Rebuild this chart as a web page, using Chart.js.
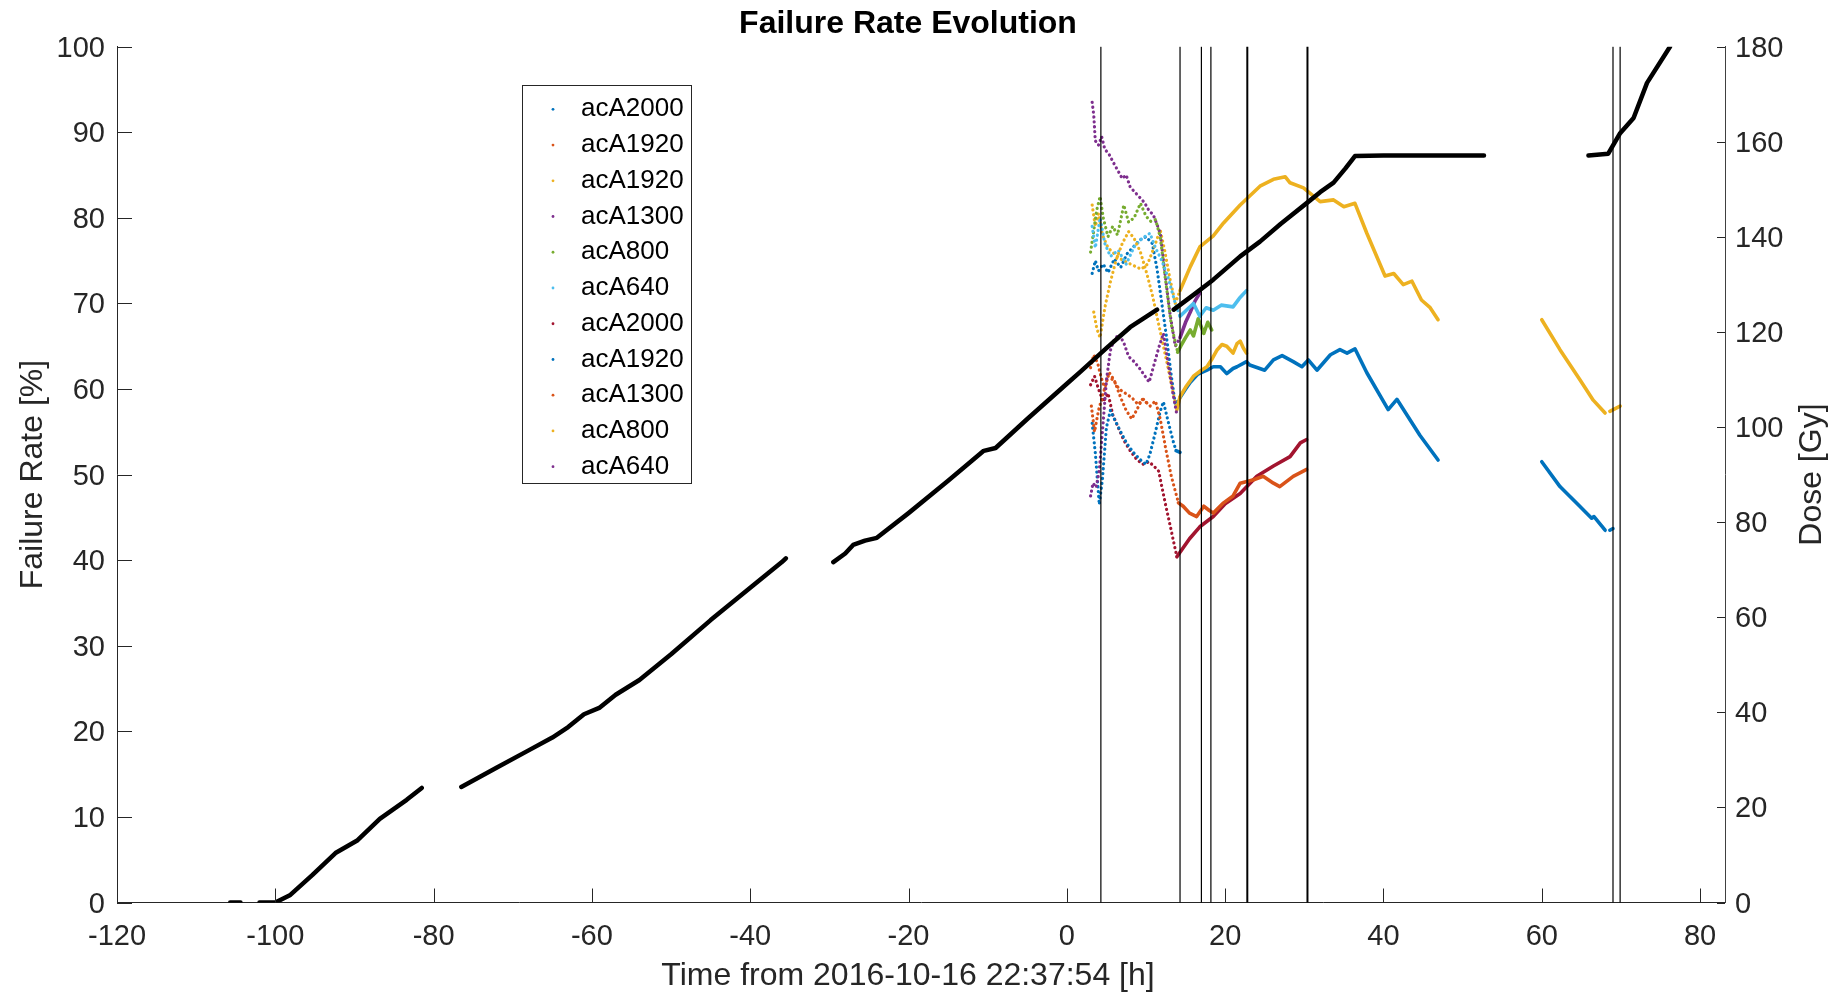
<!DOCTYPE html>
<html>
<head>
<meta charset="utf-8">
<title>Failure Rate Evolution</title>
<script src="https://cdn.jsdelivr.net/npm/chart.js@4.4.1/dist/chart.umd.min.js"></script>
<style>
  html, body { margin: 0; padding: 0; background: #fff; }
  #wrap { width: 1835px; height: 994px; }
</style>
</head>
<body>
<div id="wrap"><canvas id="failureChart"></canvas></div>
<script>
/* Failure rate of the cameras vs. time, with the accumulated dose on the
   right axis. Null = gap in the data. */

const legendLabels = ['acA2000', 'acA1920', 'acA1920', 'acA1300', 'acA800', 'acA640',
                      'acA2000', 'acA1920', 'acA1300', 'acA800', 'acA640'];

// vertical event markers [h]
const eventTimes = [4.3, 14.3, 17.0, 18.2, 69.0, 69.9];
const eventTimesBold = [22.8, 30.4];

// dose [Gy] vs time [h]
const doseGy = [
  [-105.7, 0], [-104.4, 0], null,
  [-102, 0], [-100, 0], [-98.1, 1.6], [-95.3, 5.8], [-92.4, 10.4], [-89.6, 13.1], [-86.8, 17.6], [-83.4, 21.6], [-81.5, 24.1], null,
  [-76.5, 24.3], [-72, 28.4], [-68, 32.0], [-65, 34.7], [-63, 36.9], [-61, 39.6], [-59, 41.0], [-57, 43.7], [-54, 46.8], [-50, 52.2],
  [-45, 59.4], [-40, 66.2], [-36, 71.6], [-35.5, 72.4], null,
  [-29.5, 71.6], [-28, 73.4], [-27, 75.2], [-25.5, 76.1], [-24, 76.7], [-20, 81.9], [-15, 88.7], [-12, 92.9], [-10.5, 95.0], [-9, 95.6],
  [-5, 101.7], [0, 109.1], [1.7, 111.6], [5, 116.6], [8, 121.0], [11.4, 124.7], null,
  [13.5, 124.7], [16, 127.8], [18.5, 131.0], [21.9, 135.9], [24.4, 139.0], [27, 142.7], [30.3, 147.1], [32, 149.4], [33.7, 151.4],
  [35.2, 154.4], [36.4, 157.0], [40, 157.1], [45, 157.1], [52.7, 157.1], null,
  [65.9, 157.1], [68.4, 157.5], [69.9, 161.8], [71.6, 165.0], [73.3, 172.4], [76.2, 180]
];

// failure rate [%] vs time [h], one list per camera
const rateA2000a = [
  [3.2, 73.5], [3.6, 75], [4.0, 73.8], [4.6, 74.6], [5.2, 73.6], [6.0, 75.2], [6.8, 74.2], [7.6, 75.8], [8.4, 76.6], [9.2, 77.4],
  [10.0, 77.8], [10.8, 77.0], [11.4, 74.0], [12.0, 70.0], [12.6, 66.0], [13.2, 61.5], [13.7, 58.2],
  [14.3, 59.0], [15.0, 60.0], [15.6, 60.8], [16.5, 61.7], [17.7, 62.2], [18.5, 62.6], [19.4, 62.6], [20.2, 61.8], [21.0, 62.4],
  [21.5, 62.6], [22.7, 63.2], [23.1, 62.8], [25.0, 62.2], [26.1, 63.4], [27.2, 63.9], [28.6, 63.2], [29.7, 62.6], [30.5, 63.4],
  [31.6, 62.2], [33.3, 64.0], [34.5, 64.6], [35.4, 64.2], [36.4, 64.7], [37.9, 61.9], [40.6, 57.6], [41.7, 58.8], [44.6, 54.6],
  [46.9, 51.7], null,
  [60.0, 51.5], [62.3, 48.6], [64.8, 46.3], [66.3, 44.9], [66.6, 45.1], [68.0, 43.5], null,
  [68.6, 43.5], [69.0, 43.7]
];
const rateA1920a = [
  [3.0, 62.5], [3.4, 64.0], [3.9, 63.0], [4.3, 61.5], [4.8, 60.0], [5.3, 62.0], [6.0, 61.0], [6.8, 59.0], [7.5, 57.5], [8.2, 56.5],
  [8.8, 57.5], [9.5, 58.8], [10.2, 58.3]
];
const rateA1920b = [
  [3.2, 81.5], [3.6, 79.0], [4.0, 80.5], [4.5, 78.0], [5.2, 76.5], [6.0, 75.8], [6.8, 75.2], [7.6, 74.8], [8.5, 74.4], [9.4, 74.0],
  [10.2, 74.6], [11.0, 76.5], [11.8, 78.6], [12.4, 76.0], [13.0, 73.0], [13.7, 70.0],
  [14.3, 71.5], [15.0, 73.0], [15.6, 74.3], [16.8, 76.6], [18.5, 77.9], [19.8, 79.4], [21.9, 81.5], [24.4, 83.7], [26.1, 84.5],
  [27.6, 84.8], [28.2, 84.1], [29.9, 83.5], [32.0, 81.9], [33.7, 82.1], [35.0, 81.3], [36.4, 81.7], [37.9, 78.2], [40.2, 73.2],
  [41.3, 73.5], [42.5, 72.2], [43.6, 72.6], [44.8, 70.4], [45.9, 69.5], [46.9, 68.1], null,
  [60.0, 68.1], [62.3, 64.6], [64.8, 61.1], [66.5, 58.7], [68.0, 57.2], null,
  [68.6, 57.4], [69.9, 58.0]
];
const rateA1300a = [
  [3.2, 93.5], [3.4, 92.0], [3.6, 89.0], [4.0, 88.5], [4.4, 89.5], [4.8, 88.0], [5.3, 87.5], [5.8, 86.6], [6.4, 85.6], [7.0, 84.6],
  [7.5, 85.0], [8.0, 83.6], [8.6, 83.0], [9.2, 82.4], [9.8, 81.8], [10.4, 80.8], [10.9, 80.4], [11.4, 79.2], [11.8, 78.2],
  [12.4, 73.5], [13.0, 69.0], [13.7, 65.0],
  [14.3, 66.0], [15.0, 67.8], [15.6, 69.0], [16.2, 70.3], [16.8, 71.2]
];
const rateA800a = [
  [3.0, 76.0], [3.4, 78.5], [3.8, 81.0], [4.2, 82.5], [4.6, 80.0], [5.2, 77.8], [5.8, 79.0], [6.4, 78.0], [7.2, 81.5], [7.8, 79.5],
  [8.5, 80.0], [9.3, 81.7], [10.0, 80.2], [10.6, 79.6], [11.2, 79.8], [11.8, 77.8], [12.5, 72.5], [13.2, 67.5], [14.0, 64.3],
  [14.5, 65.2], [15.0, 66.0], [15.6, 66.9], [16.0, 66.2], [16.6, 68.2], [17.3, 66.5], [17.8, 67.8], [18.3, 66.9]
];
const rateA640a = [
  [3.2, 79.0], [3.6, 76.5], [4.2, 80.0], [4.8, 77.0], [5.5, 75.5], [6.5, 76.2], [7.5, 74.6], [8.5, 76.6], [9.5, 77.6], [10.5, 78.2],
  [11.2, 76.5], [12.0, 75.0], [12.8, 73.0], [13.7, 70.0],
  [14.3, 68.5], [15.1, 69.2], [16.0, 70.0], [16.8, 68.5], [17.6, 69.5], [18.5, 69.2], [19.5, 69.8], [21.0, 69.6], [21.8, 70.6],
  [22.7, 71.5]
];
const rateA2000b = [
  [3.0, 60.5], [3.5, 61.5], [4.0, 60.0], [4.6, 58.5], [5.2, 59.5], [5.8, 57.0], [6.5, 55.5], [7.2, 54.0], [8.0, 52.8], [8.8, 51.8],
  [9.6, 51.2], [10.4, 51.5], [11.2, 50.8], [11.6, 50.4], [12.4, 46.8], [13.2, 43.4], [13.9, 40.4],
  [14.5, 41.2], [15.5, 42.5], [16.8, 43.9], [18.5, 45.1], [20.0, 46.6], [21.9, 47.8], [24.0, 49.8], [26.1, 51.0], [28.2, 52.1],
  [29.5, 53.7], [30.3, 54.1]
];
const rateA1920c = [
  [3.2, 56.0], [3.6, 52.5], [4.1, 46.5], [4.5, 49.5], [5.0, 55.5], [5.5, 57.5], [6.0, 56.5], [6.8, 55.0], [7.6, 53.6], [8.4, 52.6],
  [9.2, 51.8], [10.0, 51.2], [10.5, 52.4], [11.2, 55.0], [11.8, 57.4], [12.2, 58.5], [12.8, 56.2], [13.4, 54.0], [13.8, 52.8],
  [14.3, 52.6]
];
const rateA1300b = [
  [3.1, 58.0], [3.5, 55.0], [4.0, 57.5], [4.6, 59.5], [5.2, 61.5], [5.9, 61.0], [6.6, 60.0], [7.4, 59.5], [8.2, 59.0], [9.0, 58.2],
  [9.7, 58.8], [10.5, 58.0], [11.2, 58.6], [11.8, 56.5], [12.5, 53.0], [13.2, 49.8], [14.1, 46.7],
  [14.7, 46.3], [15.5, 45.5], [16.4, 45.1], [17.3, 46.3], [18.0, 45.8], [18.5, 45.5], [19.8, 46.7], [21.0, 47.5], [21.9, 49.0],
  [23.6, 49.4], [24.8, 49.8], [26.1, 49.0], [26.9, 48.6], [28.6, 49.8], [30.3, 50.6]
];
const rateA800b = [
  [3.4, 69.0], [3.8, 67.0], [4.2, 66.0], [4.8, 69.5], [5.5, 72.5], [6.2, 75.0], [7.0, 77.0], [7.8, 78.4], [8.5, 77.6], [9.3, 76.0],
  [10.1, 73.5], [10.8, 71.0], [11.5, 68.0], [12.2, 65.0], [12.9, 62.0], [13.6, 58.8], [13.9, 57.6],
  [14.3, 59.1], [15.0, 60.2], [16.0, 61.5], [17.0, 62.2], [17.7, 62.6], [18.4, 63.6], [19.0, 64.6], [19.6, 65.2], [20.2, 65.0],
  [21.0, 64.2], [21.5, 65.3], [21.9, 65.6], [22.3, 64.8], [22.7, 64.2]
];
const rateA640b = [
  [3.0, 47.5], [3.3, 49.0], [3.7, 48.5], [4.1, 50.5], [4.5, 55.0], [5.0, 61.0], [5.5, 64.5], [6.0, 65.8], [6.6, 66.4], [7.2, 65.4],
  [7.8, 63.8], [8.5, 63.2], [9.2, 62.4], [9.8, 61.6], [10.4, 60.8], [11.0, 62.8], [11.6, 64.8], [12.2, 66.5], [12.8, 63.0],
  [13.4, 59.5], [13.9, 57.0]
];

const rateSeries = [rateA2000a, rateA1920a, rateA1920b, rateA1300a, rateA800a, rateA640a,
                    rateA2000b, rateA1920c, rateA1300b, rateA800b, rateA640b];

// MATLAB default colour order
const palette = ['#0072BD', '#D95319', '#EDB120', '#7E2F8E', '#77AC30', '#4DBEEE', '#A2142F'];

// before this time the samples are sparse and show up as dots
const DENSE_FROM = 13.8;
const FONT = '"Liberation Sans", Arial, Helvetica, sans-serif';
const AXIS_COLOR = '#262626';

function toXY(pairs) {
  return pairs.map((p) => (p ? { x: p[0], y: p[1] } : { x: null, y: null }));
}

function eventLine(times) {
  const pts = [];
  times.forEach((t) => { pts.push([t, 0], [t, 100], null); });
  return toXY(pts);
}

/* ---- plugins ---- */

// MATLAB style ticks that point into the plot
const inwardTicks = {
  id: 'inwardTicks',
  afterDraw(chart) {
    const { ctx, chartArea: a, scales } = chart;
    ctx.save();
    ctx.strokeStyle = AXIS_COLOR;
    ctx.lineWidth = 1;
    ctx.beginPath();
    scales.x.ticks.forEach((t) => {
      const px = Math.round(scales.x.getPixelForValue(t.value)) + 0.5;
      ctx.moveTo(px, a.bottom); ctx.lineTo(px, a.bottom - 14);
    });
    scales.y.ticks.forEach((t) => {
      const py = Math.round(scales.y.getPixelForValue(t.value)) + 0.5;
      ctx.moveTo(a.left, py); ctx.lineTo(a.left + 15, py);
    });
    scales.y2.ticks.forEach((t) => {
      const py = Math.round(scales.y2.getPixelForValue(t.value)) + 0.5;
      ctx.moveTo(a.right, py); ctx.lineTo(a.right - 8, py);
    });
    ctx.stroke();
    ctx.restore();
  }
};

// title and axis labels; MATLAB centres them a little left of / above the plot centre
const figureText = {
  id: 'figureText',
  afterDraw(chart) {
    const { ctx, chartArea: a } = chart;
    const midX = (a.left + a.right) / 2 - 13;
    const midY = (a.top + a.bottom) / 2;
    ctx.save();
    ctx.textAlign = 'center';

    ctx.fillStyle = '#000';
    ctx.font = 'bold 32px ' + FONT;
    ctx.textBaseline = 'alphabetic';
    ctx.fillText('Failure Rate Evolution', midX, 32.5);

    ctx.fillStyle = AXIS_COLOR;
    ctx.font = '32px ' + FONT;
    ctx.fillText('Time from 2016-10-16 22:37:54 [h]', midX, 985);

    ctx.textBaseline = 'middle';
    ctx.save();
    ctx.translate(33, midY);
    ctx.rotate(-Math.PI / 2);
    ctx.fillText('Failure Rate [%]', 0, 0);
    ctx.restore();

    ctx.translate(a.right + 87, midY);
    ctx.rotate(-Math.PI / 2);
    ctx.fillText('Dose [Gy]', 0, 0);
    ctx.restore();
  }
};

// boxed legend inside the plot, upper left
const insideLegend = {
  id: 'insideLegend',
  afterDraw(chart) {
    const ctx = chart.ctx;
    const box = { left: 522.5, top: 85.5, width: 169, height: 398 };
    const rowH = 35.74;
    ctx.save();
    ctx.fillStyle = '#fff';
    ctx.fillRect(box.left, box.top, box.width, box.height);
    ctx.strokeStyle = AXIS_COLOR;
    ctx.lineWidth = 1;
    ctx.strokeRect(box.left, box.top, box.width, box.height);
    ctx.font = '26px ' + FONT;
    ctx.textAlign = 'left';
    ctx.textBaseline = 'middle';
    legendLabels.forEach((label, i) => {
      const y = box.top + 23.8 + i * rowH;
      ctx.fillStyle = palette[i % palette.length];
      ctx.beginPath();
      ctx.arc(box.left + 30.5, y, 1.4, 0, Math.PI * 2);
      ctx.fill();
      ctx.fillStyle = '#000';
      ctx.fillText(label, box.left + 58.5, y);
    });
    ctx.restore();
  }
};

/* ---- chart ---- */

const datasets = [
  { label: 'events', data: eventLine(eventTimes), yAxisID: 'y', borderColor: '#000', borderWidth: 1.2, order: 0 },
  { label: 'events', data: eventLine(eventTimesBold), yAxisID: 'y', borderColor: '#000', borderWidth: 2, order: 0 },
  { label: 'Dose', data: toXY(doseGy), yAxisID: 'y2', borderColor: '#000', borderWidth: 4.5, order: 1 }
];

rateSeries.forEach((series, i) => {
  datasets.push({
    label: legendLabels[i],
    data: toXY(series),
    yAxisID: 'y',
    borderColor: palette[i % palette.length],
    borderWidth: 3.6,
    order: 20 - i,
    segment: {
      borderDash: (ctx) => (ctx.p0.parsed.x < DENSE_FROM ? [0.1, 4.8] : undefined),
      borderWidth: (ctx) => (ctx.p0.parsed.x < DENSE_FROM ? 3.2 : undefined)
    }
  });
});

datasets.forEach((d) => {
  d.showLine = true;
  d.pointRadius = 0;
  d.borderCapStyle = 'round';
  d.borderJoinStyle = 'round';
  d.spanGaps = false;
  d.tension = 0;
});

Chart.defaults.font.family = FONT;
Chart.defaults.color = AXIS_COLOR;

new Chart(document.getElementById('failureChart'), {
  type: 'scatter',
  data: { datasets },
  plugins: [inwardTicks, figureText, insideLegend],
  options: {
    responsive: true,
    maintainAspectRatio: false,
    devicePixelRatio: 1,
    animation: false,
    events: [],
    layout: { padding: { top: 46.7 } },
    plugins: {
      legend: { display: false },
      tooltip: { enabled: false },
      title: { display: false }
    },
    scales: {
      x: {
        type: 'linear',
        position: 'bottom',
        min: -120,
        max: 83.15,
        afterFit: (s) => { s.height = 91.5; },
        grid: { drawOnChartArea: false, drawTicks: false },
        border: { display: true, color: AXIS_COLOR, width: 1 },
        ticks: { stepSize: 20, includeBounds: false, autoSkip: false, maxRotation: 0, padding: 17.5, color: AXIS_COLOR, font: { size: 29 } }
      },
      y: {
        type: 'linear',
        position: 'left',
        min: 0,
        max: 100,
        afterFit: (s) => { s.width = 117; },
        grid: { drawOnChartArea: false, drawTicks: false },
        border: { display: true, color: AXIS_COLOR, width: 1 },
        ticks: { stepSize: 10, autoSkip: false, padding: 12, labelOffset: 2, color: AXIS_COLOR, font: { size: 29 } }
      },
      y2: {
        type: 'linear',
        position: 'right',
        min: 0,
        max: 180,
        afterFit: (s) => { s.width = 110; },
        grid: { drawOnChartArea: false, drawTicks: false },
        border: { display: true, color: '#404040', width: 1 },
        ticks: { stepSize: 20, autoSkip: false, padding: 10, labelOffset: 2, color: AXIS_COLOR, font: { size: 29 } }
      }
    }
  }
});
</script>
</body>
</html>
